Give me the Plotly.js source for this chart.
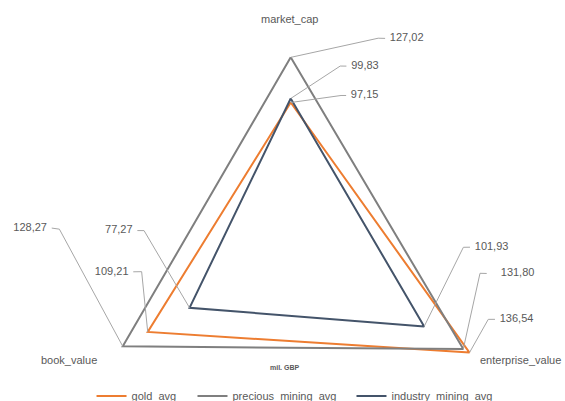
<!DOCTYPE html>
<html>
<head>
<meta charset="utf-8">
<script src="https://cdn.plot.ly/plotly-3.0.1.min.js"></script>
<style>
html,body{margin:0;padding:0;background:#fff;overflow:hidden;}
#wrap{width:565px;height:401px;overflow:hidden;position:relative;}
#chart{width:565px;height:500px;}
</style>
</head>
<body>
<div id="wrap"><div id="chart"></div></div>
<script>
// ---- data ----
var categories = ['market_cap', 'enterprise_value', 'book_value'];
var seriesNames = ['gold_avg', 'precious_mining_avg', 'industry_mining_avg'];
var gold_avg = [97.15, 136.54, 109.21];
var precious_mining_avg = [127.02, 131.80, 128.27];
var industry_mining_avg = [99.83, 101.93, 77.27];
var unitLabel = 'mil. GBP';

// ---- styling ----
var seriesValues = [gold_avg, precious_mining_avg, industry_mining_avg];
var colors = ['#ED7D31', '#7F7F7F', '#44546A'];
// leader line bends / ends / label anchors as [r, theta] per series per category (label placement)
var leaderElbow = [
  [[107.1, 18.1], [138.6, 109.5], [99.7, 261.5]],
  [[151.2, 22.5], [126.2, 97.2], [153.6, 275.0]],
  [[125.6, 15.1], [114.2, 89.3], [97.8, 277.3]]
];
var leaderEnd = [
  [[108.2, 19.8], [142.8, 108.9], [105.2, 261.9]],
  [[152.9, 24.1], [130.6, 97.0], [158.7, 275.1]],
  [[126.7, 16.9], [118.6, 89.3], [102.2, 277.0]]
];
var labelAt = [
  [[108.2, 19.8], [142.8, 108.9], [105.2, 261.9]],
  [[152.9, 24.1], [136.7, 96.6], [158.7, 275.1]],
  [[126.7, 16.9], [118.6, 89.3], [102.2, 277.0]]
];
var textSide = ['middle right', 'middle right', 'middle left'];
var legendIds = ['legend', 'legend2', 'legend3'];
var legendX = [0.162, 0.3407, 0.6221];

var n = categories.length;
var thetas = categories.map(function (c, i) { return i * 360 / n; });
function fmt(v) { return v.toFixed(2).replace('.', ','); }
var FONT = 'Liberation Sans, Arial, sans-serif';

var traces = [];
seriesValues.forEach(function (vals, s) {
  traces.push({
    type: 'scatterpolar', mode: 'lines', name: seriesNames[s], legend: legendIds[s],
    r: vals.concat([vals[0]]), theta: thetas.concat([thetas[0]]),
    line: {color: colors[s], width: 2}, hoverinfo: 'skip'
  });
});
// leader lines and value labels
seriesValues.forEach(function (vals, s) {
  vals.forEach(function (v, i) {
    traces.push({
      type: 'scatterpolar', mode: 'lines', showlegend: false, hoverinfo: 'skip',
      r: [v, leaderElbow[s][i][0], leaderEnd[s][i][0]],
      theta: [thetas[i], leaderElbow[s][i][1], leaderEnd[s][i][1]],
      line: {color: '#A6A6A6', width: 1}
    });
    traces.push({
      type: 'scatterpolar', mode: 'markers+text', showlegend: false, hoverinfo: 'skip',
      r: [labelAt[s][i][0]], theta: [labelAt[s][i][1]],
      marker: {size: 6, opacity: 0, color: '#ffffff'},
      text: [fmt(v)], textposition: textSide[i], cliponaxis: false,
      textfont: {family: FONT, size: 11, color: '#595959'}
    });
  });
});

var catPos = [
  {x: 0.513, y: 0.962, xanchor: 'center'},
  {x: 0.9965, y: 0.28, xanchor: 'right'},
  {x: 0.1216, y: 0.28, xanchor: 'center'}
];
var annotations = categories.map(function (c, i) {
  return {text: c, xref: 'paper', yref: 'paper', x: catPos[i].x, y: catPos[i].y,
    xanchor: catPos[i].xanchor, yanchor: 'middle', showarrow: false,
    font: {family: FONT, size: 11, color: '#595959'}};
});
annotations.push({text: '<b>' + unitLabel + '</b>', xref: 'paper', yref: 'paper', x: 0.504, y: 0.266,
  xanchor: 'center', yanchor: 'middle', showarrow: false,
  font: {family: FONT, size: 7, color: '#595959'}});

var layout = {
  width: 565, height: 500,
  margin: {l: 0, r: 0, t: 0, b: 0},
  paper_bgcolor: '#ffffff', plot_bgcolor: '#ffffff',
  showlegend: true,
  polar: {
    domain: {x: [0.0864, 0.9427], y: [0.0174, 0.985]},
    bgcolor: 'rgba(0,0,0,0)',
    radialaxis: {range: [0, 160], visible: false, showgrid: false, showline: false, showticklabels: false, ticks: ''},
    angularaxis: {rotation: 90, direction: 'clockwise', thetaunit: 'degrees', showgrid: false,
      showline: false, showticklabels: false, ticks: ''}
  },
  annotations: annotations
};
legendIds.forEach(function (id, s) {
  layout[id] = {orientation: 'h', x: legendX[s], xanchor: 'left', y: 0.208, yanchor: 'middle',
    font: {family: FONT, size: 11, color: '#595959'}, bgcolor: 'rgba(0,0,0,0)'};
});
Plotly.newPlot('chart', traces, layout, {displayModeBar: false, staticPlot: true});
</script>
</body>
</html>
